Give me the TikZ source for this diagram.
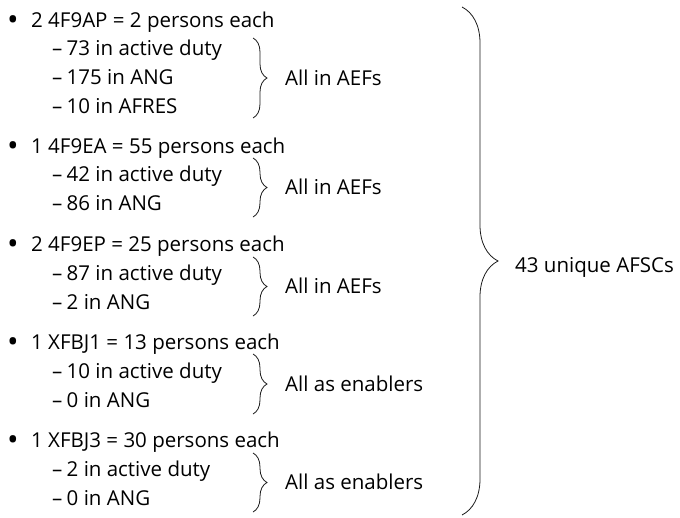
\documentclass[tikz,border=0pt]{standalone}
\usepackage{fontspec}
\setmainfont{Open Sans}
\usepackage{tikz}
\usepackage{xcolor}
\usetikzlibrary{decorations.pathreplacing}
\definecolor{vdarkgray}{HTML}{1a1a1a}

\tikzset{
	txt/.style={anchor=base west, inner sep=0pt, font=\fontsize{20.5}{24}\selectfont},
	bulletitem/.style={txt},
	subitem/.style={txt},
	bracenote/.style={txt},
	smallbrace/.style={color=vdarkgray, line width=.8pt, decorate, decoration={brace, amplitude=14pt}},
	bigbrace/.style={color=vdarkgray, line width=.8pt, decorate, decoration={brace, amplitude=36pt}}
}

\begin{document}
\begin{tikzpicture}[x=1pt, y=-1pt]
		\useasboundingbox (0,0) rectangle (680,517);
		% first group
		\node[bulletitem] (b1)  at (7,27)  {\makebox[24pt][l]{\raisebox{-3.5pt}{\scalebox{1.5}{\textbullet}}}2 4F9AP = 2 persons each};
		\node[subitem]    (b1a) at (52,55) {\makebox[14.5pt][l]{–}73 in active duty};
		\node[subitem]    (b1b) at (52,84) {\makebox[14.5pt][l]{–}175 in ANG};
		\node[subitem]    (b1c) at (52,113) {\makebox[14.5pt][l]{–}10 in AFRES};
		\coordinate (t1) at (253,38);
		\coordinate (u1) at (253,118);
		\draw[smallbrace] (t1) -- (u1);
		\node[bracenote]  (n1)  at (285,85) {All in AEFs};
		% second group
		\node[bulletitem] (b2)  at (7,153) {\makebox[24pt][l]{\raisebox{-3.5pt}{\scalebox{1.5}{\textbullet}}}1 4F9EA = 55 persons each};
		\node[subitem]    (b2a) at (52,181) {\makebox[14.5pt][l]{–}42 in active duty};
		\node[subitem]    (b2b) at (52,210) {\makebox[14.5pt][l]{–}86 in ANG};
		\coordinate (t2) at (253,158);
		\coordinate (u2) at (253,217);
		\draw[smallbrace] (t2) -- (u2);
		\node[bracenote]  (n2)  at (285,194) {All in AEFs};
		% third group
		\node[bulletitem] (b3)  at (7,251) {\makebox[24pt][l]{\raisebox{-3.5pt}{\scalebox{1.5}{\textbullet}}}2 4F9EP = 25 persons each};
		\node[subitem]    (b3a) at (52,280) {\makebox[14.5pt][l]{–}87 in active duty};
		\node[subitem]    (b3b) at (52,309) {\makebox[14.5pt][l]{–}2 in ANG};
		\coordinate (t3) at (253,257);
		\coordinate (u3) at (253,316);
		\draw[smallbrace] (t3) -- (u3);
		\node[bracenote]  (n3)  at (285,293) {All in AEFs};
		% fourth group
		\node[bulletitem] (b4)  at (7,349) {\makebox[24pt][l]{\raisebox{-3.5pt}{\scalebox{1.5}{\textbullet}}}1 XFBJ1 = 13 persons each};
		\node[subitem]    (b4a) at (52,378) {\makebox[14.5pt][l]{–}10 in active duty};
		\node[subitem]    (b4b) at (52,407) {\makebox[14.5pt][l]{–}0 in ANG};
		\coordinate (t4) at (253,354);
		\coordinate (u4) at (253,414);
		\draw[smallbrace] (t4) -- (u4);
		\node[bracenote]  (n4)  at (285,391) {All as enablers};
		% fifth group
		\node[bulletitem] (b5)  at (7,447) {\makebox[24pt][l]{\raisebox{-3.5pt}{\scalebox{1.5}{\textbullet}}}1 XFBJ3 = 30 persons each};
		\node[subitem]    (b5a) at (52,476) {\makebox[14.5pt][l]{–}2 in active duty};
		\node[subitem]    (b5b) at (52,505) {\makebox[14.5pt][l]{–}0 in ANG};
		\coordinate (t5) at (253,453);
		\coordinate (u5) at (253,512);
		\draw[smallbrace] (t5) -- (u5);
		\node[bracenote]  (n5)  at (285,489) {All as enablers};
		% total
		\coordinate (tall) at (462,7);
		\coordinate (uall) at (462,515);
		\draw[bigbrace] (tall) -- (uall);
		\node[bracenote]  (all) at (515,272) {43 unique AFSCs};
	\end{tikzpicture}
\end{document}
